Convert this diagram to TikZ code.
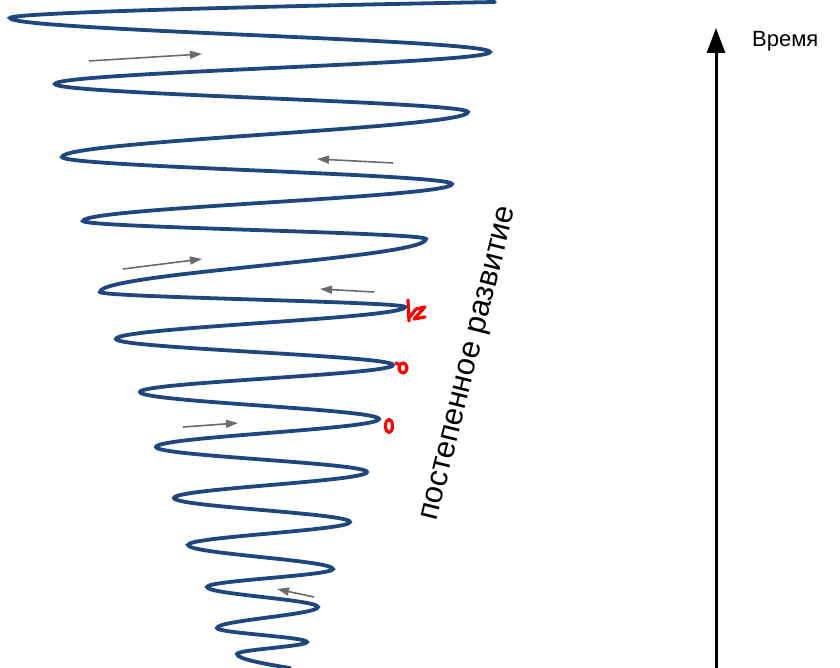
\documentclass[tikz,border=0pt]{standalone}
\usepackage{fontspec}
\setmainfont{Liberation Sans}
\usetikzlibrary{arrows.meta}
\definecolor{spiralblue}{RGB}{31,71,125}

\begin{document}
\begin{tikzpicture}[x=1pt, y=-1pt,
    spiral/.style={draw=spiralblue, line width=3.8pt, line cap=round},
    flow/.style={-{Triangle[length=12pt,width=8pt]}, draw=black!58, line width=1.6pt},
    redmark/.style={draw=red, line width=3.2pt, line cap=round, line join=round},
    timeaxis/.style={-{Triangle[length=25pt,width=18pt]}, line width=3pt}
]
    \useasboundingbox (0,0) rectangle (840,668);

    % spiral
    \draw[spiral] (495,2) .. controls (330,5) and (10,12) .. (10,18)
        \foreach \x/\y [remember=\y as \py (initially 18), evaluate=\y as \k using 0.36*(\y-\py)] in
            {490/52, 55/84, 468/112, 62/157, 452/184, 83/221, 426/239, 100/292,
             405/307, 116/339, 393/365, 140/392, 379/419, 156/447, 367/472, 174/498,
             350/522, 188/545, 333/569, 207/587, 318/607, 217/628, 307/642, 237/654}
        { .. controls +(0,\k) and +(0,-\k) .. (\x,\y) }
        .. controls +(0,5) and +(-25,-4) .. (290,668);

    % direction arrows
    \foreach \a/\b/\c/\d in {89/61/202/54, 393/163/317/159, 123/269/202/259,
                             374/292/320/289, 183/427/238/423, 314/597/277/589}
        \draw[flow] (\a,\b) -- (\c,\d);

    % red marks
    \draw[redmark] (408,300) -- (409,321) (409,318) -- (416,309)
        (416,309) -- (425,307) -- (414,319) -- (425,317);
    \draw[redmark] (396,363) -- (400,365) (403,368) ellipse [x radius=4, y radius=5];
    \draw[redmark] (389,426) ellipse [x radius=3.5, y radius=6.5];

    % label
    \node[rotate=76, font=\fontsize{31}{36}\selectfont] (dev) at (471,364) {постепенное развитие};

    % time axis
    \coordinate (tbase) at (716,668);
    \coordinate (ttop) at (716,28);
    \draw[timeaxis] (tbase) -- (ttop);
    \node[anchor=base west, font=\fontsize{22}{26}\selectfont, inner sep=0pt] (time) at (752,47) {Время};
\end{tikzpicture}
\end{document}
